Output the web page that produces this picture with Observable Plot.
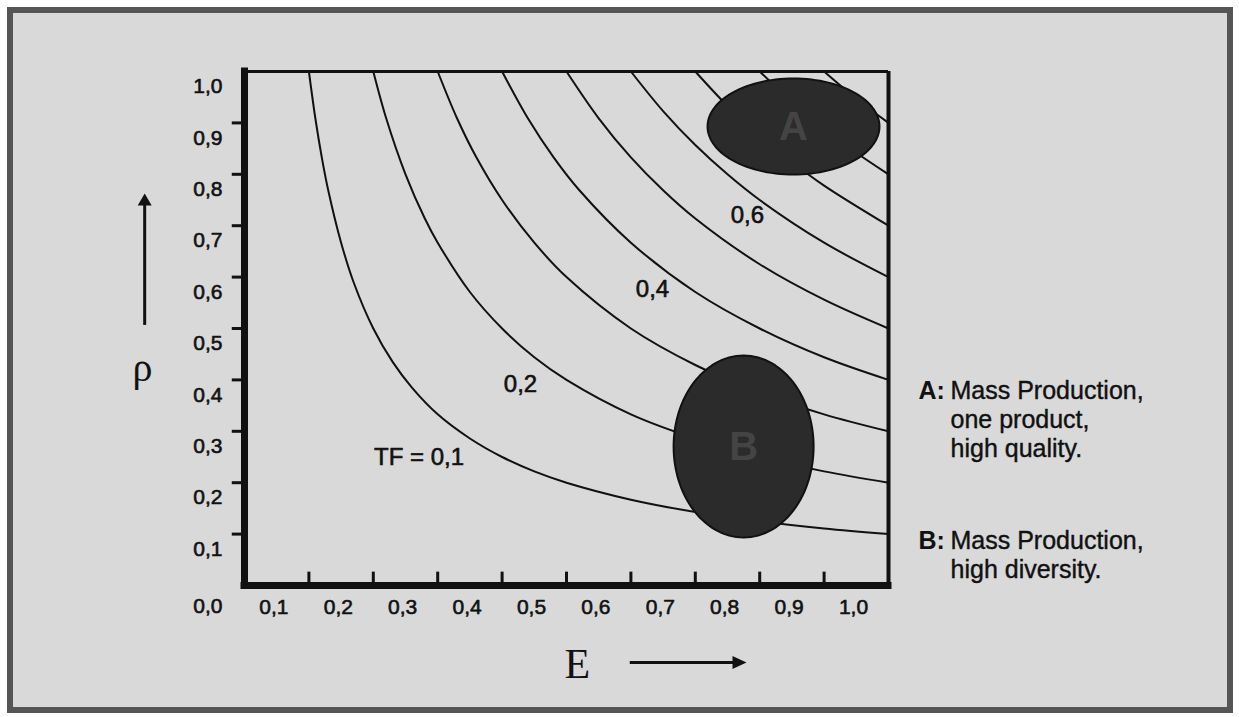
<!DOCTYPE html>
<html><head><meta charset="utf-8">
<script src="https://cdn.jsdelivr.net/npm/d3@7"></script>
<script src="https://cdn.jsdelivr.net/npm/@observablehq/plot@0.6"></script>
<style>
html,body{margin:0;padding:0;background:#fff;}
#wrap{position:relative;width:1239px;height:717px;overflow:hidden;}
#panel{position:absolute;left:7px;top:7px;width:1214px;height:694px;border:6px solid #555;background:#d9d9d9;}
#chart{position:absolute;left:0;top:0;}
</style></head><body>
<div id="wrap"><div id="panel"></div><div id="chart"></div></div>
<script>
// ---- data ----
const curveLevels = [0.1, 0.2, 0.3, 0.4, 0.5, 0.6, 0.7, 0.8, 0.9];
const curveE = [
  [0.10, 0.11, 0.12, 0.13, 0.15, 0.17, 0.20, 0.23, 0.26, 0.30, 0.35, 0.40, 0.45, 0.50, 0.60, 0.70, 0.80, 0.90, 1.00],
  [0.20, 0.22, 0.25, 0.28, 0.30, 0.35, 0.40, 0.45, 0.50, 0.60, 0.70, 0.80, 0.90, 1.00],
  [0.30, 0.33, 0.36, 0.40, 0.45, 0.50, 0.60, 0.70, 0.80, 0.90, 1.00],
  [0.40, 0.44, 0.48, 0.52, 0.60, 0.70, 0.80, 0.90, 1.00],
  [0.50, 0.55, 0.60, 0.65, 0.70, 0.80, 0.90, 1.00],
  [0.60, 0.65, 0.70, 0.75, 0.80, 0.90, 1.00],
  [0.70, 0.75, 0.80, 0.85, 0.90, 1.00],
  [0.80, 0.85, 0.90, 0.95, 1.00],
  [0.90, 0.95, 1.00]
];
const curveRho = [
  [1.00, 0.909, 0.833, 0.769, 0.667, 0.588, 0.50, 0.435, 0.385, 0.333, 0.286, 0.25, 0.222, 0.20, 0.167, 0.143, 0.125, 0.111, 0.10],
  [1.00, 0.909, 0.80, 0.714, 0.667, 0.571, 0.50, 0.444, 0.40, 0.333, 0.286, 0.25, 0.222, 0.20],
  [1.00, 0.909, 0.833, 0.75, 0.667, 0.60, 0.50, 0.429, 0.375, 0.333, 0.30],
  [1.00, 0.909, 0.833, 0.769, 0.667, 0.571, 0.50, 0.444, 0.40],
  [1.00, 0.909, 0.833, 0.769, 0.714, 0.625, 0.556, 0.50],
  [1.00, 0.923, 0.857, 0.80, 0.75, 0.667, 0.60],
  [1.00, 0.933, 0.875, 0.824, 0.778, 0.70],
  [1.00, 0.941, 0.889, 0.842, 0.80],
  [1.00, 0.947, 0.90]
];
const curveLabelText = ["TF = 0,1", "0,2", "0,4", "0,6"];
const curveLabelE = [0.271, 0.4286, 0.6335, 0.781];
const curveLabelRho = [0.249, 0.391, 0.576, 0.720];

const regionNames = ["A", "B"];
const regionE = [0.8525, 0.775];
const regionRho = [0.893, 0.2704];
const regionHalfE = [0.1335, 0.1087];
const regionHalfRho = [0.0934, 0.177];

const xTickValues = [0.1, 0.2, 0.3, 0.4, 0.5, 0.6, 0.7, 0.8, 0.9];
const yTickValues = [0.1, 0.2, 0.3, 0.4, 0.5, 0.6, 0.7, 0.8, 0.9];
const xTickLabelValues = [0.1, 0.2, 0.3, 0.4, 0.5, 0.6, 0.7, 0.8, 0.9, 1.0];
const xTickLabels = ["0,1", "0,2", "0,3", "0,4", "0,5", "0,6", "0,7", "0,8", "0,9", "1,0"];
const yTickLabelValues = [0.1, 0.2, 0.3, 0.4, 0.5, 0.6, 0.7, 0.8, 0.9, 1.0];
const yTickLabels = ["0,1", "0,2", "0,3", "0,4", "0,5", "0,6", "0,7", "0,8", "0,9", "1,0"];

const legendKeys = ["A:", "B:"];
const legendTexts = ["Mass Production,\none product,\nhigh quality.", "Mass Production,\nhigh diversity."];

// ---- tables for the library ----
const curveRows = [];
curveLevels.forEach((tf, i) => curveE[i].forEach((e, j) => curveRows.push({tf, E: e, rho: curveRho[i][j]})));

const ellipseRows = [];
regionNames.forEach((name, i) => {
  for (let k = 0; k < 120; k++) {
    const a = (k / 120) * 2 * Math.PI;
    ellipseRows.push({name, E: regionE[i] + regionHalfE[i] * Math.cos(a), rho: regionRho[i] + regionHalfRho[i] * Math.sin(a)});
  }
});
const regionRows = regionNames.map((name, i) => ({name, E: regionE[i], rho: regionRho[i]}));
const curveLabelRows = curveLabelText.map((t, i) => ({t, E: curveLabelE[i], rho: curveLabelRho[i]}));
const xLabelRows = xTickLabels.map((t, i) => ({t, v: xTickLabelValues[i]}));
const yLabelRows = yTickLabels.map((t, i) => ({t, v: yTickLabelValues[i]}));
const legendRows = legendKeys.map((k, i) => ({k, t: legendTexts[i], y: [0.4027, 0.1109][i]}));

const arrowUp = {draw(ctx) { ctx.moveTo(0, 0); ctx.lineTo(7, 12); ctx.lineTo(-7, 12); ctx.closePath(); }};
const arrowRight = {draw(ctx) { ctx.moveTo(0, 0); ctx.lineTo(-14, -6.5); ctx.lineTo(-14, 6.5); ctx.closePath(); }};

const ink = "#111";
const sans = "'Liberation Sans', Arial, Helvetica, sans-serif";
const serif = "'Liberation Serif', 'Times New Roman', serif";
const thick = {stroke: ink, strokeWidth: 0.6};

const chart = Plot.plot({
  width: 1239, height: 717,
  marginLeft: 244, marginRight: 351, marginTop: 71, marginBottom: 132,
  x: {domain: [0, 1], axis: null},
  y: {domain: [0, 1], axis: null},
  style: {background: "transparent", fontFamily: sans, color: ink},
  marks: [
    // curves
    Plot.line(curveRows, {x: "E", y: "rho", z: "tf", curve: "catmull-rom", stroke: ink, strokeWidth: 2}),
    // frame (top/right thin)
    Plot.ruleY([1], {stroke: ink, strokeWidth: 3}),
    Plot.ruleX([1], {stroke: ink, strokeWidth: 4}),
    // ticks
    Plot.ruleX(xTickValues, {x: d => d, y1: 0, y2: 0.026, stroke: ink, strokeWidth: 3}),
    Plot.ruleY(yTickValues, {y: d => d, x1: 0, x2: -0.019, stroke: ink, strokeWidth: 3}),
    // thick axes
    Plot.ruleX([0], {stroke: ink, strokeWidth: 7, strokeLinecap: "square"}),
    Plot.ruleY([0], {stroke: ink, strokeWidth: 7, strokeLinecap: "square"}),
    // tick labels
    Plot.text(xLabelRows, {x: "v", y: 0, text: "t", dx: -35, dy: 22, fontSize: 21, fill: ink, ...thick}),
    Plot.text(yLabelRows, {x: 0, y: "v", text: "t", dx: -22, dy: 15, textAnchor: "end", fontSize: 21, fill: ink, ...thick}),
    Plot.text(["0,0"], {x: 0, y: 0, text: d => d, dx: -22, dy: 21, textAnchor: "end", fontSize: 21, fill: ink, ...thick}),
    // curve labels
    Plot.text(curveLabelRows, {x: "E", y: "rho", text: "t", fontSize: 24, fill: ink, ...thick}),
    // regions
    Plot.line(ellipseRows, {x: "E", y: "rho", z: "name", curve: "linear-closed", fill: "#2b2b2b", stroke: ink, strokeWidth: 2}),
    Plot.text(regionRows, {x: "E", y: "rho", text: "name", dy: 1, fontSize: 40, fontWeight: "bold", fill: "#444"}),
    // axis titles and arrows
    Plot.text(["ρ"], {x: -0.1584, y: 0.422, text: d => d, fontSize: 40, fontFamily: serif, fill: ink}),
    Plot.ruleX([-0.155], {y1: 0.506, y2: 0.745, stroke: ink, strokeWidth: 3}),
    Plot.dot([0], {x: -0.155, y: 0.7626, symbol: arrowUp, r: 6, fill: ink, stroke: "none"}),
    Plot.text(["E"], {x: 0.517, y: -0.153, text: d => d, fontSize: 42, fontFamily: serif, fill: ink}),
    Plot.ruleY([-0.1498], {x1: 0.599, x2: 0.765, stroke: ink, strokeWidth: 3}),
    Plot.dot([0], {x: 0.7795, y: -0.1498, symbol: arrowRight, r: 6, fill: ink, stroke: "none"}),
    // legend text
    Plot.text(legendRows, {x: 1.0466, y: "y", text: "k", textAnchor: "start", lineAnchor: "top", lineHeight: 1.16, fontSize: 25, fontWeight: "bold", fill: ink}),
    Plot.text(legendRows, {x: 1.0963, y: "y", text: "t", textAnchor: "start", lineAnchor: "top", lineHeight: 1.16, fontSize: 25, fill: ink, stroke: ink, strokeWidth: 0.4})
  ]
});
document.getElementById("chart").appendChild(chart);
</script></body></html>
